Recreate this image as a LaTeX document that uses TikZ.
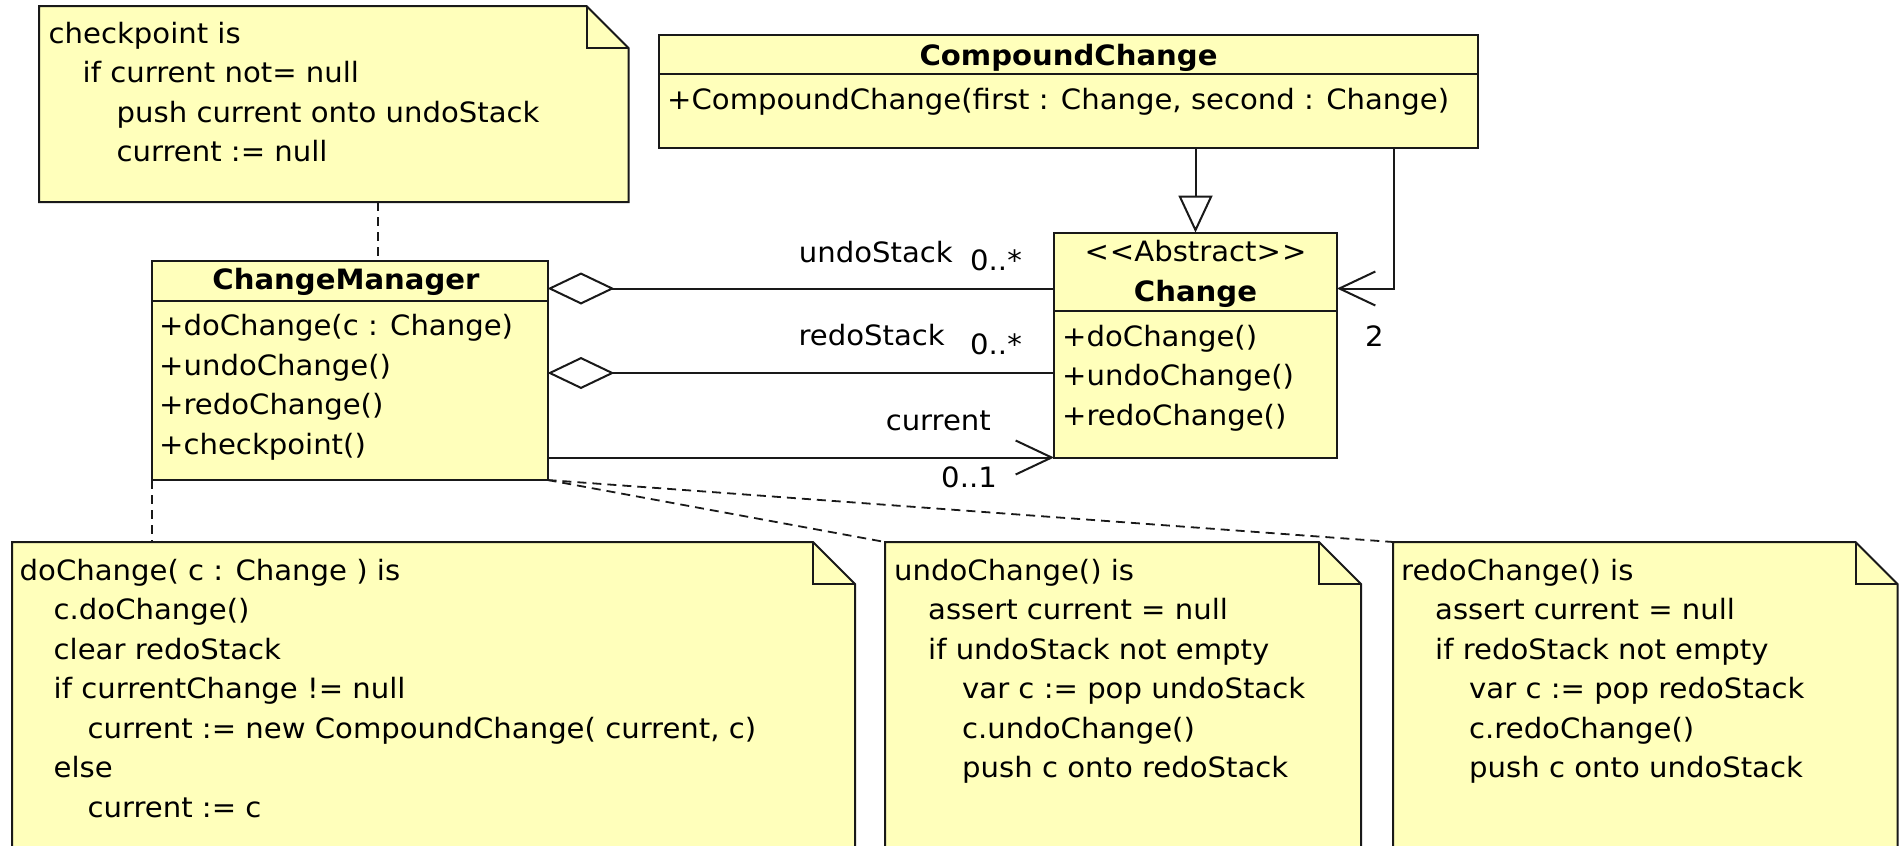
\documentclass[tikz,border=0pt]{standalone}
\usepackage{fontspec}
\setmainfont{DejaVu Sans}[FakeStretch=1.04]
\usetikzlibrary{arrows.meta}

\definecolor{noteyellow}{RGB}{255,255,187}
\definecolor{ink}{RGB}{25,25,25}

\newcommand\diagramfont{\fontsize{28}{34}\selectfont}

\tikzset{
  classbox/.style={draw=ink, fill=noteyellow, line width=2pt, anchor=north west,
    inner sep=0pt, outer sep=0pt},
  notearea/.style={anchor=north west, inner sep=0pt, outer sep=0pt},
  noteline/.style={draw=ink, line width=2pt, line join=miter},
  divider/.style={draw=ink, line width=2pt},
  codeline/.style={anchor=base west, inner sep=0pt},
  classname/.style={anchor=base, inner sep=0pt, font=\diagramfont\bfseries},
  stereo/.style={anchor=base, inner sep=0pt},
  lbl/.style={inner sep=0pt},
  link/.style={draw=ink, line width=2pt},
  anchorlink/.style={draw=ink, line width=1.8pt, dash pattern=on 9pt off 6pt},
  aggregation/.style={link, {Diamond[open,length=67pt,width=32pt]}-},
  generalization/.style={link, -{Triangle[open,length=37pt,width=34pt]}},
  navigable/.style={link, -{Straight Barb[length=36pt,width=34pt]}},
}

% dog-eared note: name, top-left corner, width, height
\newcommand\dognote[4]{%
  \node[notearea, minimum width=#3pt, minimum height=#4pt] (#1) at (#2) {};
  \filldraw[noteline, fill=noteyellow] (#1.south west) -- (#1.north west)
    -- ([xshift=-42pt]#1.north east) -- ([yshift=-42pt]#1.north east)
    -- (#1.south east) -- cycle;
  \draw[noteline] ([xshift=-42pt]#1.north east)
    -- ([xshift=-42pt,yshift=-42pt]#1.north east) -- ([yshift=-42pt]#1.north east);
}

% indented lines of pseudo code: name prefix, left x, first baseline, indent/text list
\newcommand\putlines[4]{%
  \foreach \ind/\txt [count=\k] in {#4}{%
    \node[codeline] (#1-\k) at ({#2+34*\ind},{#3+39.5*(\k-1)}) {\txt};
  }}

\begin{document}
\begin{tikzpicture}[x=1pt, y=-1pt, font=\diagramfont]
\useasboundingbox (0,0) rectangle (1904,846);
\clip (0,0) rectangle (1904,846);
\fill[white] (0,0) rectangle (1904,846);

% helper coordinates for connector routing
\coordinate (undoY) at (0,288.5);
\coordinate (redoY) at (0,373);
\coordinate (trunk) at (1393.5,0);
\coordinate (cpX) at (378,0);

% ---- classes ----
\node[classbox, minimum width=819pt, minimum height=112.5pt] (cc) at (659,35) {};
\draw[divider] ([yshift=-38.5pt]cc.north west) -- ([yshift=-38.5pt]cc.north east);
\node[classname] (cc-name) at (1068.5,65) {CompoundChange};
\node[codeline] (cc-1) at (667,109.5) {+CompoundChange(first : Change, second : Change)};

\node[classbox, minimum width=395.5pt, minimum height=219pt] (cm) at (152,261) {};
\draw[divider] ([yshift=-39.5pt]cm.north west) -- ([yshift=-39.5pt]cm.north east);
\node[classname] (cm-name) at (346,289) {ChangeManager};
\putlines{cmop}{159}{335.5}{0/{+doChange(c : Change)}, 0/{+undoChange()}, 0/{+redoChange()}, 0/{+checkpoint()}}

\node[classbox, minimum width=283pt, minimum height=225pt] (chg) at (1054,232.5) {};
\draw[divider] ([yshift=-78.5pt]chg.north west) -- ([yshift=-78.5pt]chg.north east);
\node[stereo] (chg-st) at (1195.5,261) {<\kern1pt<Abstract>\kern1pt>};
\node[classname] (chg-name) at (1195.5,301) {Change};
\putlines{chgop}{1062}{346}{0/{+doChange()}, 0/{+undoChange()}, 0/{+redoChange()}}

% ---- associations ----
\draw[aggregation] (cm.east |- undoY) -- (chg.west |- undoY);
\draw[aggregation] (cm.east |- redoY) -- (chg.west |- redoY);
\draw[navigable] (cm.east |- chg.south west) -- (chg.south west);
\draw[generalization] (cc.south -| chg.north) -- (chg.north);
\draw[navigable] (cc.south -| trunk) -- (trunk |- undoY) -- (chg.east |- undoY);

\node[lbl, anchor=base east] (l-undo) at (953,262) {undoStack};
\node[lbl, anchor=base west] (m-undo) at (970,270) {0..*};
\node[lbl, anchor=base east] (l-redo) at (945,345) {redoStack};
\node[lbl, anchor=base west] (m-redo) at (970,354) {0..*};
\node[lbl, anchor=base east] (l-cur) at (991,430) {current};
\node[lbl, anchor=base east] (m-cur) at (997,487) {0..1};
\node[lbl, anchor=base west] (m-two) at (1365,346) {2};

% ---- notes ----
\dognote{ncp}{39,6}{589.5}{196}
\putlines{tcp}{48.5}{43}{0/{checkpoint is}, 1/{if current not= null}, 2/{push current onto undoStack}, 2/{current := null}}

\dognote{ndo}{12,542}{843}{340}
\putlines{tdo}{19.5}{580}{0/{doChange( c : Change ) is}, 1/{c.doChange()}, 1/{clear redoStack}, 1/{if currentChange != null}, 2/{current := new CompoundChange( current, c)}, 1/{else}, 2/{current := c}}

\dognote{nundo}{885,542}{476}{340}
\putlines{tundo}{894}{580}{0/{undoChange() is}, 1/{assert current = null}, 1/{if undoStack not empty}, 2/{var c := pop undoStack}, 2/{c.undoChange()}, 2/{push c onto redoStack}}

\dognote{nredo}{1393,542}{504.5}{340}
\putlines{tredo}{1401}{580}{0/{redoChange() is}, 1/{assert current = null}, 1/{if redoStack not empty}, 2/{var c := pop redoStack}, 2/{c.redoChange()}, 2/{push c onto undoStack}}

% ---- note anchors ----
\draw[anchorlink] (ncp.south -| cpX) -- (cm.north -| cpX);
\draw[anchorlink] (cm.south west) -- (ndo.north -| cm.south west);
\draw[anchorlink] (cm.south east) -- (nundo.north west);
\draw[anchorlink] (cm.south east) -- (nredo.north west);
\end{tikzpicture}
\end{document}
